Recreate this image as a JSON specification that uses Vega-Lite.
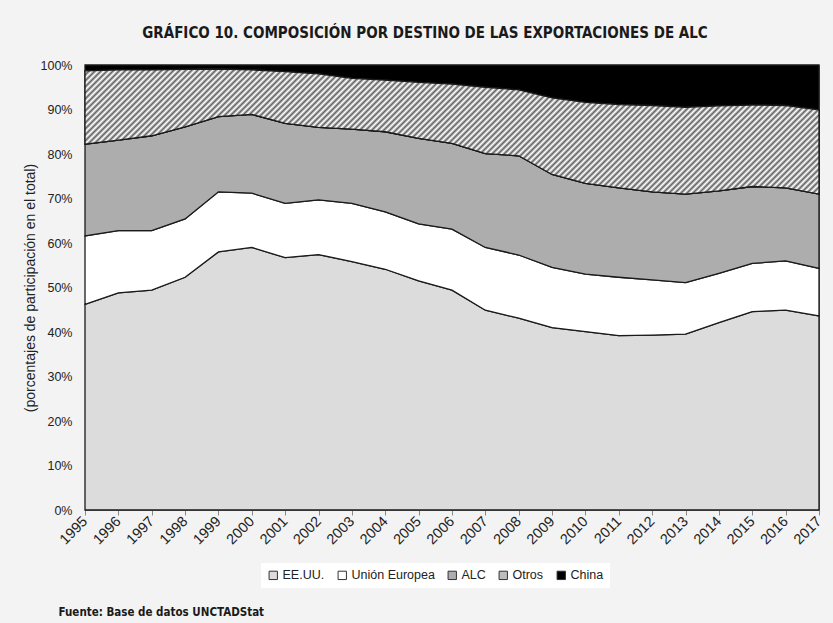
{
  "$schema": "https://vega.github.io/schema/vega-lite/v6.json",
  "width": 734,
  "height": 445,
  "autosize": {"type": "none"},
  "padding": {"left": 85, "top": 65, "right": 14, "bottom": 113},
  "background": "#f3f3f3",
  "title": {
    "text": "GRÁFICO 10. COMPOSICIÓN POR DESTINO DE LAS EXPORTACIONES DE ALC",
    "anchor": "middle",
    "dx": -27,
    "offset": 18,
    "font": "DejaVu Sans Condensed, sans-serif",
    "fontSize": 15,
    "fontWeight": "bold",
    "color": "#1a1a1a"
  },
  "datasets": {
    "exp": [
      {"anio": 1995, "eeuu": 46.2, "ue": 15.4, "alc": 20.6, "otros": 16.5, "china": 1.3},
      {"anio": 1996, "eeuu": 48.8, "ue": 14.0, "alc": 20.3, "otros": 15.8, "china": 1.1},
      {"anio": 1997, "eeuu": 49.4, "ue": 13.4, "alc": 21.3, "otros": 14.8, "china": 1.1},
      {"anio": 1998, "eeuu": 52.3, "ue": 13.1, "alc": 20.7, "otros": 12.9, "china": 1.0},
      {"anio": 1999, "eeuu": 58.0, "ue": 13.5, "alc": 16.9, "otros": 10.7, "china": 0.9},
      {"anio": 2000, "eeuu": 59.0, "ue": 12.2, "alc": 17.7, "otros": 10.0, "china": 1.1},
      {"anio": 2001, "eeuu": 56.7, "ue": 12.2, "alc": 18.0, "otros": 11.6, "china": 1.5},
      {"anio": 2002, "eeuu": 57.4, "ue": 12.3, "alc": 16.3, "otros": 12.0, "china": 2.0},
      {"anio": 2003, "eeuu": 55.8, "ue": 13.1, "alc": 16.7, "otros": 11.4, "china": 3.0},
      {"anio": 2004, "eeuu": 54.1, "ue": 12.9, "alc": 18.0, "otros": 11.6, "china": 3.4},
      {"anio": 2005, "eeuu": 51.5, "ue": 12.8, "alc": 19.2, "otros": 12.6, "china": 3.9},
      {"anio": 2006, "eeuu": 49.4, "ue": 13.7, "alc": 19.3, "otros": 13.3, "china": 4.3},
      {"anio": 2007, "eeuu": 44.9, "ue": 14.1, "alc": 21.1, "otros": 14.9, "china": 5.0},
      {"anio": 2008, "eeuu": 43.1, "ue": 14.2, "alc": 22.3, "otros": 14.8, "china": 5.6},
      {"anio": 2009, "eeuu": 41.0, "ue": 13.5, "alc": 20.9, "otros": 17.2, "china": 7.4},
      {"anio": 2010, "eeuu": 40.1, "ue": 12.9, "alc": 20.4, "otros": 18.2, "china": 8.4},
      {"anio": 2011, "eeuu": 39.2, "ue": 13.1, "alc": 20.1, "otros": 18.7, "china": 8.9},
      {"anio": 2012, "eeuu": 39.3, "ue": 12.4, "alc": 19.8, "otros": 19.4, "china": 9.1},
      {"anio": 2013, "eeuu": 39.5, "ue": 11.6, "alc": 19.9, "otros": 19.5, "china": 9.5},
      {"anio": 2014, "eeuu": 42.1, "ue": 11.1, "alc": 18.5, "otros": 19.1, "china": 9.2},
      {"anio": 2015, "eeuu": 44.6, "ue": 10.8, "alc": 17.3, "otros": 18.3, "china": 9.0},
      {"anio": 2016, "eeuu": 44.9, "ue": 11.1, "alc": 16.4, "otros": 18.5, "china": 9.1},
      {"anio": 2017, "eeuu": 43.6, "ue": 10.7, "alc": 16.7, "otros": 18.9, "china": 10.1}
    ],
    "orden": [
      {"clave": "eeuu", "serie": "EE.UU.", "orden": 1},
      {"clave": "ue", "serie": "Unión Europea", "orden": 2},
      {"clave": "alc", "serie": "ALC", "orden": 3},
      {"clave": "otros", "serie": "Otros", "orden": 4},
      {"clave": "china", "serie": "China", "orden": 5}
    ]
  },
  "data": {"name": "exp"},
  "transform": [
    {"fold": ["eeuu", "ue", "alc", "otros", "china"], "as": ["clave", "valor"]},
    {"lookup": "clave", "from": {"data": {"name": "orden"}, "key": "clave", "fields": ["serie", "orden"]}},
    {"stack": "valor", "groupby": ["anio"], "sort": [{"field": "orden", "order": "ascending"}], "as": ["y0", "y1"]}
  ],
  "encoding": {
    "x": {
      "field": "anio",
      "type": "quantitative",
      "scale": {"domain": [1995, 2017], "nice": false, "zero": false},
      "axis": {
        "values": [1995, 1996, 1997, 1998, 1999, 2000, 2001, 2002, 2003, 2004, 2005, 2006, 2007, 2008, 2009, 2010, 2011, 2012, 2013, 2014, 2015, 2016, 2017],
        "format": "d",
        "labelAngle": -45,
        "labelAlign": "right",
        "labelBaseline": "middle",
        "labelPadding": 4,
        "labelFont": "Liberation Sans, Arial, sans-serif",
        "labelFontSize": 14.5,
        "labelColor": "#222",
        "labelOverlap": false,
        "labelBound": false,
        "labelFlush": false,
        "grid": false,
        "domainColor": "#888",
        "tickColor": "#888",
        "tickSize": 5,
        "title": "Fuente: Base de datos UNCTADStat",
        "titleFont": "DejaVu Sans Condensed, sans-serif",
        "titleFontSize": 11.5,
        "titleFontWeight": "bold",
        "titleColor": "#1a1a1a",
        "titleAnchor": "start",
        "titleAlign": "left",
        "titleBaseline": "middle",
        "titleX": -27,
        "titleY": 102
      }
    },
    "y": {
      "field": "y1",
      "type": "quantitative",
      "scale": {"domain": [0, 100], "nice": false},
      "axis": {
        "values": [0, 10, 20, 30, 40, 50, 60, 70, 80, 90, 100],
        "labelExpr": "datum.value + '%'",
        "labelFont": "Liberation Sans, Arial, sans-serif",
        "labelFontSize": 12.5,
        "labelColor": "#222",
        "labelPadding": 13,
        "ticks": false,
        "domain": false,
        "grid": false,
        "title": "(porcentajes de participación en el total)",
        "titleFont": "Liberation Sans, Arial, sans-serif",
        "titleFontSize": 14,
        "titleFontWeight": "normal",
        "titleColor": "#222",
        "titlePadding": 3
      }
    },
    "y2": {"field": "y0"}
  },
  "layer": [
    {
      "mark": {"type": "area", "stroke": "#1a1a1a", "strokeWidth": 1.3},
      "encoding": {
        "color": {
          "field": "serie",
          "type": "nominal",
          "scale": {
            "domain": ["EE.UU.", "Unión Europea", "ALC", "Otros", "China"],
            "range": ["#dcdcdc", "#ffffff", "#adadad", "#bdbdbd", "#000000"]
          },
          "legend": {
            "title": null,
            "orient": "none",
            "legendX": 176,
            "legendY": 498,
            "direction": "horizontal",
            "columns": 5,
            "columnPadding": 11,
            "fillColor": "#ffffff",
            "padding": 6,
            "symbolType": "square",
            "symbolSize": 70,
            "symbolStrokeColor": "#333",
            "symbolStrokeWidth": 1,
            "symbolOpacity": 1,
            "labelOffset": 3,
            "labelFont": "Liberation Sans, Arial, sans-serif",
            "labelFontSize": 12.5,
            "labelColor": "#222"
          }
        }
      }
    },
    {
      "transform": [{"filter": "datum.serie === 'Otros'"}],
      "mark": {
        "type": "area",
        "stroke": "#1a1a1a",
        "strokeWidth": 1.3,
        "fill": {
          "gradient": "linear",
          "x1": 0, "y1": 0, "x2": 1.324, "y2": 0.2255,
          "stops": [
            {"offset":0,"color":"#666"},{"offset":0.003,"color":"#fff"},{"offset":0.006,"color":"#666"},{"offset":0.009,"color":"#fff"},{"offset":0.012,"color":"#666"},{"offset":0.015,"color":"#fff"},{"offset":0.018,"color":"#666"},{"offset":0.021,"color":"#fff"},{"offset":0.024,"color":"#666"},{"offset":0.027,"color":"#fff"},
            {"offset":0.03,"color":"#666"},{"offset":0.033,"color":"#fff"},{"offset":0.036,"color":"#666"},{"offset":0.039,"color":"#fff"},{"offset":0.042,"color":"#666"},{"offset":0.045,"color":"#fff"},{"offset":0.048,"color":"#666"},{"offset":0.051,"color":"#fff"},{"offset":0.054,"color":"#666"},{"offset":0.057,"color":"#fff"},
            {"offset":0.06,"color":"#666"},{"offset":0.063,"color":"#fff"},{"offset":0.066,"color":"#666"},{"offset":0.069,"color":"#fff"},{"offset":0.072,"color":"#666"},{"offset":0.075,"color":"#fff"},{"offset":0.078,"color":"#666"},{"offset":0.081,"color":"#fff"},{"offset":0.084,"color":"#666"},{"offset":0.087,"color":"#fff"},
            {"offset":0.09,"color":"#666"},{"offset":0.093,"color":"#fff"},{"offset":0.096,"color":"#666"},{"offset":0.099,"color":"#fff"},{"offset":0.102,"color":"#666"},{"offset":0.105,"color":"#fff"},{"offset":0.108,"color":"#666"},{"offset":0.111,"color":"#fff"},{"offset":0.114,"color":"#666"},{"offset":0.117,"color":"#fff"},
            {"offset":0.12,"color":"#666"},{"offset":0.123,"color":"#fff"},{"offset":0.126,"color":"#666"},{"offset":0.129,"color":"#fff"},{"offset":0.132,"color":"#666"},{"offset":0.135,"color":"#fff"},{"offset":0.138,"color":"#666"},{"offset":0.141,"color":"#fff"},{"offset":0.144,"color":"#666"},{"offset":0.147,"color":"#fff"},
            {"offset":0.15,"color":"#666"},{"offset":0.153,"color":"#fff"},{"offset":0.156,"color":"#666"},{"offset":0.159,"color":"#fff"},{"offset":0.162,"color":"#666"},{"offset":0.165,"color":"#fff"},{"offset":0.168,"color":"#666"},{"offset":0.171,"color":"#fff"},{"offset":0.174,"color":"#666"},{"offset":0.177,"color":"#fff"},
            {"offset":0.18,"color":"#666"},{"offset":0.183,"color":"#fff"},{"offset":0.186,"color":"#666"},{"offset":0.189,"color":"#fff"},{"offset":0.192,"color":"#666"},{"offset":0.195,"color":"#fff"},{"offset":0.198,"color":"#666"},{"offset":0.201,"color":"#fff"},{"offset":0.204,"color":"#666"},{"offset":0.207,"color":"#fff"},
            {"offset":0.21,"color":"#666"},{"offset":0.213,"color":"#fff"},{"offset":0.216,"color":"#666"},{"offset":0.219,"color":"#fff"},{"offset":0.222,"color":"#666"},{"offset":0.225,"color":"#fff"},{"offset":0.228,"color":"#666"},{"offset":0.231,"color":"#fff"},{"offset":0.234,"color":"#666"},{"offset":0.237,"color":"#fff"},
            {"offset":0.24,"color":"#666"},{"offset":0.243,"color":"#fff"},{"offset":0.246,"color":"#666"},{"offset":0.249,"color":"#fff"},{"offset":0.252,"color":"#666"},{"offset":0.255,"color":"#fff"},{"offset":0.258,"color":"#666"},{"offset":0.261,"color":"#fff"},{"offset":0.264,"color":"#666"},{"offset":0.267,"color":"#fff"},
            {"offset":0.27,"color":"#666"},{"offset":0.273,"color":"#fff"},{"offset":0.276,"color":"#666"},{"offset":0.279,"color":"#fff"},{"offset":0.282,"color":"#666"},{"offset":0.285,"color":"#fff"},{"offset":0.288,"color":"#666"},{"offset":0.291,"color":"#fff"},{"offset":0.294,"color":"#666"},{"offset":0.297,"color":"#fff"},
            {"offset":0.3,"color":"#666"},{"offset":0.303,"color":"#fff"},{"offset":0.306,"color":"#666"},{"offset":0.309,"color":"#fff"},{"offset":0.312,"color":"#666"},{"offset":0.315,"color":"#fff"},{"offset":0.318,"color":"#666"},{"offset":0.321,"color":"#fff"},{"offset":0.324,"color":"#666"},{"offset":0.327,"color":"#fff"},
            {"offset":0.33,"color":"#666"},{"offset":0.333,"color":"#fff"},{"offset":0.336,"color":"#666"},{"offset":0.339,"color":"#fff"},{"offset":0.342,"color":"#666"},{"offset":0.345,"color":"#fff"},{"offset":0.348,"color":"#666"},{"offset":0.351,"color":"#fff"},{"offset":0.354,"color":"#666"},{"offset":0.357,"color":"#fff"},
            {"offset":0.36,"color":"#666"},{"offset":0.363,"color":"#fff"},{"offset":0.366,"color":"#666"},{"offset":0.369,"color":"#fff"},{"offset":0.372,"color":"#666"},{"offset":0.375,"color":"#fff"},{"offset":0.378,"color":"#666"},{"offset":0.381,"color":"#fff"},{"offset":0.384,"color":"#666"},{"offset":0.387,"color":"#fff"},
            {"offset":0.39,"color":"#666"},{"offset":0.393,"color":"#fff"},{"offset":0.396,"color":"#666"},{"offset":0.399,"color":"#fff"},{"offset":0.402,"color":"#666"},{"offset":0.405,"color":"#fff"},{"offset":0.408,"color":"#666"},{"offset":0.411,"color":"#fff"},{"offset":0.414,"color":"#666"},{"offset":0.417,"color":"#fff"},
            {"offset":0.42,"color":"#666"},{"offset":0.423,"color":"#fff"},{"offset":0.426,"color":"#666"},{"offset":0.429,"color":"#fff"},{"offset":0.432,"color":"#666"},{"offset":0.435,"color":"#fff"},{"offset":0.438,"color":"#666"},{"offset":0.441,"color":"#fff"},{"offset":0.444,"color":"#666"},{"offset":0.447,"color":"#fff"},
            {"offset":0.45,"color":"#666"},{"offset":0.453,"color":"#fff"},{"offset":0.456,"color":"#666"},{"offset":0.459,"color":"#fff"},{"offset":0.462,"color":"#666"},{"offset":0.465,"color":"#fff"},{"offset":0.468,"color":"#666"},{"offset":0.471,"color":"#fff"},{"offset":0.474,"color":"#666"},{"offset":0.477,"color":"#fff"},
            {"offset":0.48,"color":"#666"},{"offset":0.483,"color":"#fff"},{"offset":0.486,"color":"#666"},{"offset":0.489,"color":"#fff"},{"offset":0.492,"color":"#666"},{"offset":0.495,"color":"#fff"},{"offset":0.498,"color":"#666"},{"offset":0.501,"color":"#fff"},{"offset":0.504,"color":"#666"},{"offset":0.507,"color":"#fff"},
            {"offset":0.51,"color":"#666"},{"offset":0.513,"color":"#fff"},{"offset":0.516,"color":"#666"},{"offset":0.519,"color":"#fff"},{"offset":0.522,"color":"#666"},{"offset":0.525,"color":"#fff"},{"offset":0.528,"color":"#666"},{"offset":0.531,"color":"#fff"},{"offset":0.534,"color":"#666"},{"offset":0.537,"color":"#fff"},
            {"offset":0.54,"color":"#666"},{"offset":0.543,"color":"#fff"},{"offset":0.546,"color":"#666"},{"offset":0.549,"color":"#fff"},{"offset":0.552,"color":"#666"},{"offset":0.555,"color":"#fff"},{"offset":0.558,"color":"#666"},{"offset":0.561,"color":"#fff"},{"offset":0.564,"color":"#666"},{"offset":0.567,"color":"#fff"},
            {"offset":0.57,"color":"#666"},{"offset":0.573,"color":"#fff"},{"offset":0.576,"color":"#666"},{"offset":0.579,"color":"#fff"},{"offset":0.582,"color":"#666"},{"offset":0.585,"color":"#fff"},{"offset":0.588,"color":"#666"},{"offset":0.591,"color":"#fff"},{"offset":0.594,"color":"#666"},{"offset":0.597,"color":"#fff"},
            {"offset":0.6,"color":"#666"},{"offset":0.603,"color":"#fff"},{"offset":0.606,"color":"#666"},{"offset":0.609,"color":"#fff"},{"offset":0.612,"color":"#666"},{"offset":0.615,"color":"#fff"},{"offset":0.618,"color":"#666"},{"offset":0.621,"color":"#fff"},{"offset":0.624,"color":"#666"},{"offset":0.627,"color":"#fff"},
            {"offset":0.63,"color":"#666"},{"offset":0.633,"color":"#fff"},{"offset":0.636,"color":"#666"},{"offset":0.639,"color":"#fff"},{"offset":0.642,"color":"#666"},{"offset":0.645,"color":"#fff"},{"offset":0.648,"color":"#666"},{"offset":0.651,"color":"#fff"},{"offset":0.654,"color":"#666"},{"offset":0.657,"color":"#fff"},
            {"offset":0.66,"color":"#666"},{"offset":0.663,"color":"#fff"},{"offset":0.666,"color":"#666"},{"offset":0.669,"color":"#fff"},{"offset":0.672,"color":"#666"},{"offset":0.675,"color":"#fff"},{"offset":0.678,"color":"#666"},{"offset":0.681,"color":"#fff"},{"offset":0.684,"color":"#666"},{"offset":0.687,"color":"#fff"},
            {"offset":0.69,"color":"#666"},{"offset":0.693,"color":"#fff"},{"offset":0.696,"color":"#666"},{"offset":0.699,"color":"#fff"},{"offset":0.702,"color":"#666"},{"offset":0.705,"color":"#fff"},{"offset":0.708,"color":"#666"},{"offset":0.711,"color":"#fff"},{"offset":0.714,"color":"#666"},{"offset":0.717,"color":"#fff"},
            {"offset":0.72,"color":"#666"},{"offset":0.723,"color":"#fff"},{"offset":0.726,"color":"#666"},{"offset":0.729,"color":"#fff"},{"offset":0.732,"color":"#666"},{"offset":0.735,"color":"#fff"},{"offset":0.738,"color":"#666"},{"offset":0.741,"color":"#fff"},{"offset":0.744,"color":"#666"},{"offset":0.747,"color":"#fff"},
            {"offset":0.75,"color":"#666"},{"offset":0.753,"color":"#fff"},{"offset":0.756,"color":"#666"},{"offset":0.759,"color":"#fff"},{"offset":0.762,"color":"#666"},{"offset":0.765,"color":"#fff"},{"offset":0.768,"color":"#666"},{"offset":0.771,"color":"#fff"},{"offset":0.774,"color":"#666"},{"offset":0.777,"color":"#fff"},
            {"offset":0.78,"color":"#666"},{"offset":0.783,"color":"#fff"},{"offset":0.786,"color":"#666"},{"offset":0.789,"color":"#fff"},{"offset":0.792,"color":"#666"},{"offset":0.795,"color":"#fff"},{"offset":0.798,"color":"#666"},{"offset":0.801,"color":"#fff"},{"offset":0.804,"color":"#666"},{"offset":0.807,"color":"#fff"},
            {"offset":0.81,"color":"#666"},{"offset":0.813,"color":"#fff"},{"offset":0.816,"color":"#666"},{"offset":0.819,"color":"#fff"},{"offset":0.822,"color":"#666"},{"offset":0.825,"color":"#fff"},{"offset":0.828,"color":"#666"},{"offset":0.831,"color":"#fff"},{"offset":0.834,"color":"#666"},{"offset":0.837,"color":"#fff"},
            {"offset":0.84,"color":"#666"},{"offset":0.843,"color":"#fff"},{"offset":0.846,"color":"#666"},{"offset":0.849,"color":"#fff"},{"offset":0.852,"color":"#666"},{"offset":0.855,"color":"#fff"},{"offset":0.858,"color":"#666"},{"offset":0.861,"color":"#fff"},{"offset":0.864,"color":"#666"},{"offset":0.867,"color":"#fff"}
          ]
        }
      }
    }
  ],
  "config": {
    "view": {"stroke": "#666", "strokeWidth": 1},
    "font": "Liberation Sans, Arial, sans-serif"
  }
}
